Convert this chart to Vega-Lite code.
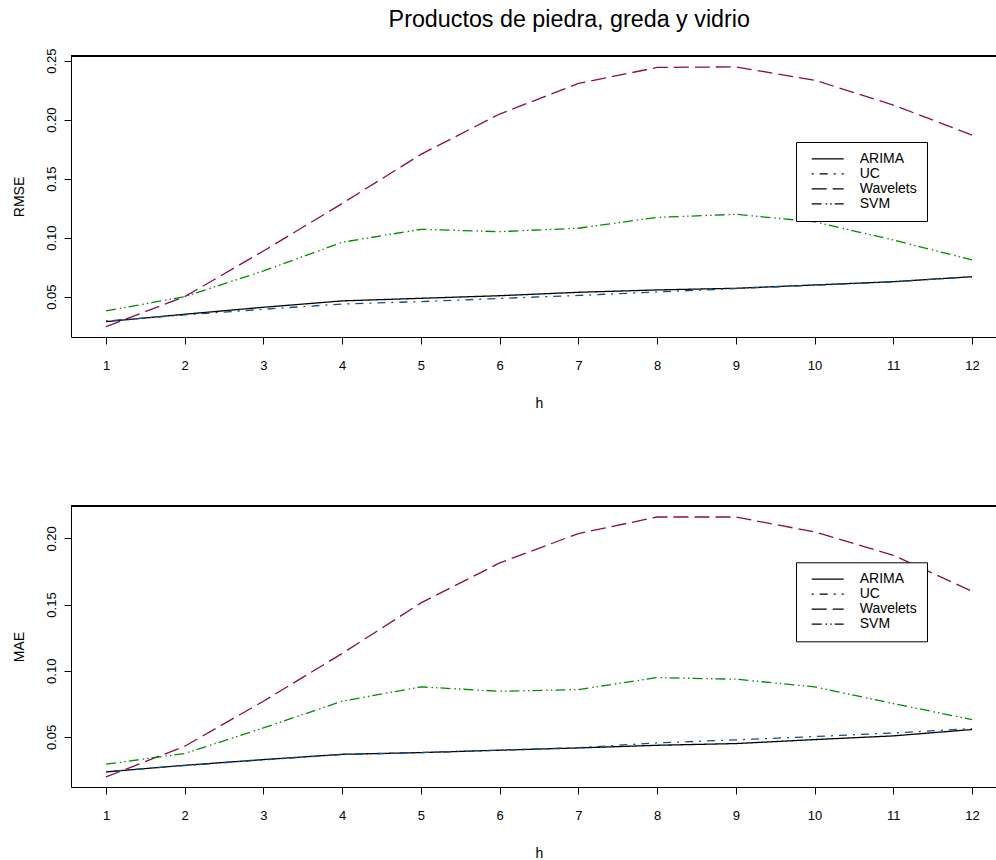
{
  "$schema": "https://vega.github.io/schema/vega-lite/v6.json",
  "background": "white",
  "padding": {"left": 12, "top": 7, "right": 0, "bottom": 0},
  "title": {"text": "Productos de piedra, greda y vidrio", "fontSize": 23.3, "fontWeight": "normal", "font": "Liberation Sans", "color": "black", "anchor": "middle", "dx": 65, "offset": 16},
  "config": {
    "view": {"stroke": null},
    "font": "Liberation Sans",
    "line": {"strokeWidth": 1.3, "clip": true},
    "axis": {"domainColor": "black", "tickColor": "black", "labelColor": "black", "titleColor": "black", "labelFontSize": 13, "titleFontSize": 14, "tickSize": 7, "grid": false, "titleFontWeight": "normal", "labelFont": "Liberation Sans", "titleFont": "Liberation Sans", "domainWidth": 1, "tickWidth": 1, "labelOverlap": false, "labelFlush": false},
    "axisX": {"labelPadding": 15, "titleY": 70.5, "titleX": 468, "titleBaseline": "alphabetic", "titleAlign": "center"},
    "axisY": {"labelAngle": -90, "labelAlign": "center", "labelBaseline": "alphabetic", "labelPadding": 9, "titleX": -52, "titleY": 140.5, "titleAngle": -90, "titleAlign": "center", "titleBaseline": "middle"},
    "legend": {"orient": "none", "title": null, "fillColor": "white", "strokeColor": "black", "padding": 10, "symbolType": "stroke", "symbolSize": 1024, "symbolStrokeWidth": 1, "symbolStrokeColor": "black", "labelFontSize": 14, "labelOffset": 15, "clipHeight": 13.6, "rowPadding": 0, "symbolOffset": 4.7, "labelFont": "Liberation Sans", "labelColor": "black"}
  },
  "spacing": 94,
  "resolve": {"legend": {"strokeDash": "independent"}},
  "datasets": {
    "rmse": [
      {"h": 1, "model": "ARIMA", "value": 0.0288}, {"h": 1, "model": "UC", "value": 0.0294}, {"h": 1, "model": "Wavelets", "value": 0.0246}, {"h": 1, "model": "SVM", "value": 0.0379},
      {"h": 2, "model": "ARIMA", "value": 0.0351}, {"h": 2, "model": "UC", "value": 0.0345}, {"h": 2, "model": "Wavelets", "value": 0.0500}, {"h": 2, "model": "SVM", "value": 0.0500},
      {"h": 3, "model": "ARIMA", "value": 0.0410}, {"h": 3, "model": "UC", "value": 0.0393}, {"h": 3, "model": "Wavelets", "value": 0.0887}, {"h": 3, "model": "SVM", "value": 0.0718},
      {"h": 4, "model": "ARIMA", "value": 0.0464}, {"h": 4, "model": "UC", "value": 0.0438}, {"h": 4, "model": "Wavelets", "value": 0.1290}, {"h": 4, "model": "SVM", "value": 0.0961},
      {"h": 5, "model": "ARIMA", "value": 0.0486}, {"h": 5, "model": "UC", "value": 0.0458}, {"h": 5, "model": "Wavelets", "value": 0.1706}, {"h": 5, "model": "SVM", "value": 0.1071},
      {"h": 6, "model": "ARIMA", "value": 0.0508}, {"h": 6, "model": "UC", "value": 0.0485}, {"h": 6, "model": "Wavelets", "value": 0.2048}, {"h": 6, "model": "SVM", "value": 0.1051},
      {"h": 7, "model": "ARIMA", "value": 0.0537}, {"h": 7, "model": "UC", "value": 0.0510}, {"h": 7, "model": "Wavelets", "value": 0.2307}, {"h": 7, "model": "SVM", "value": 0.1080},
      {"h": 8, "model": "ARIMA", "value": 0.0557}, {"h": 8, "model": "UC", "value": 0.0540}, {"h": 8, "model": "Wavelets", "value": 0.2443}, {"h": 8, "model": "SVM", "value": 0.1172},
      {"h": 9, "model": "ARIMA", "value": 0.0571}, {"h": 9, "model": "UC", "value": 0.0568}, {"h": 9, "model": "Wavelets", "value": 0.2448}, {"h": 9, "model": "SVM", "value": 0.1198},
      {"h": 10, "model": "ARIMA", "value": 0.0599}, {"h": 10, "model": "UC", "value": 0.0597}, {"h": 10, "model": "Wavelets", "value": 0.2335}, {"h": 10, "model": "SVM", "value": 0.1135},
      {"h": 11, "model": "ARIMA", "value": 0.0627}, {"h": 11, "model": "UC", "value": 0.0625}, {"h": 11, "model": "Wavelets", "value": 0.2124}, {"h": 11, "model": "SVM", "value": 0.0980},
      {"h": 12, "model": "ARIMA", "value": 0.0669}, {"h": 12, "model": "UC", "value": 0.0669}, {"h": 12, "model": "Wavelets", "value": 0.1870}, {"h": 12, "model": "SVM", "value": 0.0811}
    ],
    "mae": [
      {"h": 1, "model": "ARIMA", "value": 0.0236}, {"h": 1, "model": "UC", "value": 0.0238}, {"h": 1, "model": "Wavelets", "value": 0.0198}, {"h": 1, "model": "SVM", "value": 0.0294},
      {"h": 2, "model": "ARIMA", "value": 0.0286}, {"h": 2, "model": "UC", "value": 0.0284}, {"h": 2, "model": "Wavelets", "value": 0.0430}, {"h": 2, "model": "SVM", "value": 0.0375},
      {"h": 3, "model": "ARIMA", "value": 0.0329}, {"h": 3, "model": "UC", "value": 0.0327}, {"h": 3, "model": "Wavelets", "value": 0.0770}, {"h": 3, "model": "SVM", "value": 0.0568},
      {"h": 4, "model": "ARIMA", "value": 0.0369}, {"h": 4, "model": "UC", "value": 0.0367}, {"h": 4, "model": "Wavelets", "value": 0.1130}, {"h": 4, "model": "SVM", "value": 0.0770},
      {"h": 5, "model": "ARIMA", "value": 0.0382}, {"h": 5, "model": "UC", "value": 0.0381}, {"h": 5, "model": "Wavelets", "value": 0.1512}, {"h": 5, "model": "SVM", "value": 0.0878},
      {"h": 6, "model": "ARIMA", "value": 0.0400}, {"h": 6, "model": "UC", "value": 0.0400}, {"h": 6, "model": "Wavelets", "value": 0.1814}, {"h": 6, "model": "SVM", "value": 0.0845},
      {"h": 7, "model": "ARIMA", "value": 0.0417}, {"h": 7, "model": "UC", "value": 0.0419}, {"h": 7, "model": "Wavelets", "value": 0.2036}, {"h": 7, "model": "SVM", "value": 0.0858},
      {"h": 8, "model": "ARIMA", "value": 0.0437}, {"h": 8, "model": "UC", "value": 0.0455}, {"h": 8, "model": "Wavelets", "value": 0.2161}, {"h": 8, "model": "SVM", "value": 0.0948},
      {"h": 9, "model": "ARIMA", "value": 0.0450}, {"h": 9, "model": "UC", "value": 0.0478}, {"h": 9, "model": "Wavelets", "value": 0.2161}, {"h": 9, "model": "SVM", "value": 0.0936},
      {"h": 10, "model": "ARIMA", "value": 0.0480}, {"h": 10, "model": "UC", "value": 0.0503}, {"h": 10, "model": "Wavelets", "value": 0.2048}, {"h": 10, "model": "SVM", "value": 0.0878},
      {"h": 11, "model": "ARIMA", "value": 0.0508}, {"h": 11, "model": "UC", "value": 0.0530}, {"h": 11, "model": "Wavelets", "value": 0.1872}, {"h": 11, "model": "SVM", "value": 0.0752},
      {"h": 12, "model": "ARIMA", "value": 0.0556}, {"h": 12, "model": "UC", "value": 0.0563}, {"h": 12, "model": "Wavelets", "value": 0.1600}, {"h": 12, "model": "SVM", "value": 0.0631}
    ]
  },
  "vconcat": [
    {
      "width": 925, "height": 281,
      "data": {"name": "rmse"},
      "encoding": {
        "x": {"field": "h", "type": "quantitative", "scale": {"domain": [0.5555, 12.304], "nice": false, "zero": false}, "axis": {"values": [1,2,3,4,5,6,7,8,9,10,11,12], "title": "h", "orient": "bottom"}},
        "y": {"field": "value", "type": "quantitative", "scale": {"domain": [0.0158, 0.254], "nice": false, "zero": false}, "axis": {"values": [0.05, 0.1, 0.15, 0.2, 0.25], "format": ".2f", "title": "RMSE"}},
        "strokeDash": {"field": "model", "type": "nominal", "scale": {"domain": ["ARIMA", "UC", "Wavelets", "SVM"], "range": [[1, 0], [2, 6, 8, 6], [15, 6], [10, 4, 1.5, 3, 1.5, 3]]},
          "legend": {"legendX": 725, "legendY": 86, "labelExpr": "datum.label + '\u00a0\u00a0\u00a0'"}}
      },
      "layer": [
        {"transform": [{"filter": "datum.model === 'ARIMA'"}], "mark": {"type": "line", "color": "#000000"}},
        {"transform": [{"filter": "datum.model === 'UC'"}], "mark": {"type": "line", "color": "#104E8B"}},
        {"transform": [{"filter": "datum.model === 'Wavelets'"}], "mark": {"type": "line", "color": "#8B0A50"}},
        {"transform": [{"filter": "datum.model === 'SVM'"}], "mark": {"type": "line", "color": "#008B00"}},
        {
          "mark": {"type": "rule", "color": "black", "strokeWidth": 1},
          "encoding": {"y": {"datum": 0.254}, "x": null, "strokeDash": null}
        }
      ]
    },
    {
      "width": 925, "height": 281,
      "data": {"name": "mae"},
      "encoding": {
        "x": {"field": "h", "type": "quantitative", "scale": {"domain": [0.5555, 12.304], "nice": false, "zero": false}, "axis": {"values": [1,2,3,4,5,6,7,8,9,10,11,12], "title": "h", "orient": "bottom"}},
        "y": {"field": "value", "type": "quantitative", "scale": {"domain": [0.0122, 0.2244], "nice": false, "zero": false}, "axis": {"values": [0.05, 0.1, 0.15, 0.2], "format": ".2f", "title": "MAE"}},
        "strokeDash": {"field": "model", "type": "nominal", "scale": {"domain": ["ARIMA", "UC", "Wavelets", "SVM"], "range": [[1, 0], [2, 6, 8, 6], [15, 6], [10, 4, 1.5, 3, 1.5, 3]]},
          "legend": {"legendX": 725, "legendY": 56.3, "labelExpr": "datum.label + '\u00a0\u00a0\u00a0'"}}
      },
      "layer": [
        {"transform": [{"filter": "datum.model === 'ARIMA'"}], "mark": {"type": "line", "color": "#000000"}},
        {"transform": [{"filter": "datum.model === 'UC'"}], "mark": {"type": "line", "color": "#104E8B"}},
        {"transform": [{"filter": "datum.model === 'Wavelets'"}], "mark": {"type": "line", "color": "#8B0A50"}},
        {"transform": [{"filter": "datum.model === 'SVM'"}], "mark": {"type": "line", "color": "#008B00"}},
        {
          "mark": {"type": "rule", "color": "black", "strokeWidth": 1},
          "encoding": {"y": {"datum": 0.2244}, "x": null, "strokeDash": null}
        }
      ]
    }
  ]
}
